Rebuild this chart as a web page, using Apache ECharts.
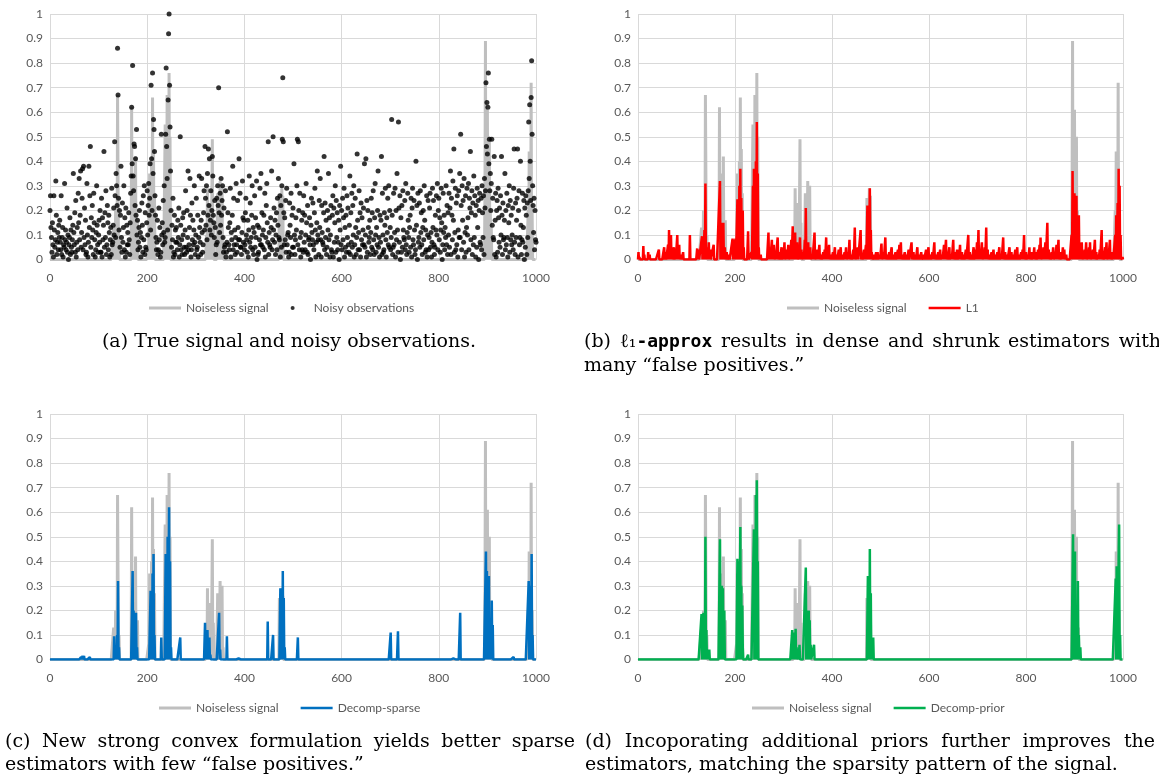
<!DOCTYPE html>
<html><head><meta charset="utf-8">
<script src="https://cdn.jsdelivr.net/npm/echarts@6/dist/echarts.min.js"></script>
<style>html,body{margin:0;padding:0;background:#fff}#c{width:1159px;height:776px}</style>
</head><body><div id="c"></div>
<script>
// ---------- data ----------
const N = 1001; // indices 0..1000
const yTicks = [0,0.1,0.2,0.3,0.4,0.5,0.6,0.7,0.8,0.9,1];
const xTicks = [0,200,400,600,800,1000];

// noiseless signal: non-zero entries [index, value]
const signalNonzero = [[131,0.13],[133,0.05],[135,0.2],[137,0.05],[139,0.67],[140,0.67],[142,0.1],
 [168,0.62],[170,0.35],[172,0.2],[174,0.3],[176,0.42],[178,0.15],[180,0.16],
 [203,0.06],[205,0.35],[207,0.2],[209,0.4],[211,0.66],[213,0.45],[215,0.27],
 [237,0.55],[239,0.3],[241,0.67],[243,0.4],[245,0.76],[247,0.5],
 [322,0.1],[324,0.29],[326,0.1],[328,0.23],[331,0.1],[334,0.49],[336,0.15],
 [345,0.27],[347,0.2],[350,0.32],[352,0.25],[354,0.3],[356,0.05],
 [472,0.25],[474,0.15],[477,0.29],[479,0.26],
 [895,0.3],[896,0.89],[898,0.45],[900,0.61],[902,0.3],[904,0.5],[906,0.2],[908,0.13],
 [984,0.2],[986,0.44],[988,0.3],[990,0.72],[992,0.2]];

// noisy observations, one per index, in hundredths
const noisyObs = [
20,26,13,9,3,15,6,1,26,12,5,8,32,18,2,7,11,4,14,9,
16,7,4,26,2,9,13,1,6,5,31,8,12,4,7,21,3,10,0,6,
9,17,2,12,5,3,8,14,35,11,6,19,3,24,1,7,13,4,27,15,
33,8,18,36,5,11,25,37,4,38,9,21,6,16,2,3,31,10,1,7,
38,13,26,46,5,17,9,22,12,2,27,15,8,1,4,11,30,14,6,3,
10,16,7,20,3,3,25,1,17,8,14,44,5,19,9,28,2,6,22,15,
4,18,11,1,8,13,2,29,6,7,14,21,10,48,26,9,35,30,22,86,
67,25,12,20,5,18,38,9,3,23,7,13,30,4,17,1,21,3,14,6,
11,6,19,8,2,15,27,34,62,39,79,34,28,47,46,22,41,18,53,10,
16,4,7,13,20,5,11,1,9,23,14,3,26,8,30,2,19,5,4,15,
28,10,22,31,18,25,39,12,71,41,20,76,35,57,53,44,26,18,9,4,
7,16,2,4,21,8,13,1,3,51,10,15,6,24,11,30,7,9,51,78,
46,33,12,65,92,100,71,54,36,20,5,14,8,25,1,3,18,2,12,7,
13,7,4,16,9,21,1,6,50,14,4,8,2,17,10,19,5,2,12,28,
5,3,20,9,36,4,6,13,33,18,1,4,23,8,16,6,12,30,7,2,
10,25,4,5,18,1,9,34,13,7,2,16,33,11,3,6,19,28,12,46,
25,14,30,8,35,18,45,22,41,12,16,28,10,20,42,34,18,15,9,24,
13,2,6,25,7,30,22,70,19,11,27,14,33,18,24,30,9,3,21,5,
6,28,1,3,7,52,19,13,6,4,15,29,1,11,8,18,38,4,25,6,
12,2,9,31,6,3,24,13,8,41,8,27,5,5,2,11,32,17,7,16,
4,6,19,25,10,8,3,16,1,12,34,7,23,5,9,18,30,4,13,2,
11,26,5,17,9,32,0,14,2,3,13,8,29,6,35,6,19,10,5,12,
18,4,27,1,9,22,31,15,7,48,2,11,6,5,17,13,36,4,8,50,
12,21,7,16,2,10,19,4,25,14,33,9,8,26,1,22,5,30,49,74,
48,19,6,17,8,24,3,29,6,10,11,1,3,23,14,9,27,2,18,5,
21,5,39,10,2,8,17,12,30,49,6,48,20,4,27,9,1,11,16,4,
19,3,26,7,18,4,10,31,15,3,22,2,8,9,17,6,0,14,25,11,
8,23,6,4,19,29,12,1,7,15,36,10,8,2,24,13,33,8,1,22,
11,7,6,19,42,4,23,9,16,2,5,20,12,35,8,17,1,10,22,4,
3,18,26,1,21,7,15,30,3,24,9,19,4,7,16,0,22,12,38,6,
20,4,25,8,17,29,1,13,5,18,3,26,9,21,6,3,14,34,2,19,
7,27,5,22,10,30,1,6,25,13,2,9,43,16,4,11,28,4,19,1,
23,8,17,6,12,21,6,39,5,10,41,1,24,3,20,13,7,9,16,2,
11,25,5,19,4,28,8,2,17,31,10,3,13,6,20,36,5,9,1,18,
7,16,42,2,27,10,3,4,19,14,29,8,1,17,11,25,6,30,5,20,
13,4,9,57,18,2,5,27,6,11,29,1,20,8,35,12,3,56,21,7,
26,0,17,3,22,5,28,12,9,8,24,4,31,6,2,11,27,16,9,3,
13,18,5,25,1,21,29,8,6,24,12,2,4,40,14,22,0,27,7,9,
23,5,28,11,19,6,2,13,20,8,30,16,3,12,4,26,1,10,24,4,
9,21,27,5,11,1,7,29,13,24,6,2,5,18,12,26,10,31,4,20,
25,8,17,3,12,29,15,0,6,27,11,18,4,13,9,30,6,22,2,19,
10,27,5,21,36,2,25,18,8,32,16,45,3,11,29,4,23,6,26,1,
12,28,9,35,9,51,22,4,30,16,24,7,33,1,11,26,3,13,29,10,
17,31,4,25,21,44,8,19,28,2,23,6,34,9,26,18,1,22,5,29,
13,24,0,20,27,7,6,25,4,30,19,9,26,2,33,21,28,72,46,64,
43,62,76,39,49,28,35,20,31,49,14,25,9,8,42,2,16,27,1,20,
24,3,29,17,7,21,5,26,10,42,18,2,23,8,9,16,35,4,20,6,
27,9,1,22,15,30,3,24,8,18,6,10,21,4,29,45,7,2,23,9,
16,25,45,1,20,28,6,9,40,14,2,8,27,7,13,24,0,21,5,26,
18,2,23,9,28,56,33,63,40,24,66,81,51,30,22,11,25,4,20,8,
7];

// L1 estimate, non-zero entries
const l1Nonzero = [[1,0.03],[3,0.01],[11,0.055],[13,0.02],[21,0.03],[24,0.02],[43,0.04],[54,0.05],[57,0.03],[62,0.06],[64,0.12],[66,0.07],[68,0.1],[70,0.03],[74,0.05],[77,0.03],[81,0.1],[83,0.05],[85,0.06],[89,0.02],[93,0.03],[107,0.1],[122,0.045],[125,0.04],[132,0.095],[134,0.05],[137,0.12],[139,0.31],[141,0.05],[143,0.03],[146,0.07],[149,0.04],[156,0.06],[169,0.32],[171,0.15],[174,0.06],[176,0.15],[179,0.05],[183,0.03],[188,0.02],[195,0.085],[198,0.08],[201,0.085],[205,0.245],[207,0.15],[209,0.3],[211,0.37],[213,0.25],[216,0.2],[218,0.05],[227,0.115],[234,0.03],[237,0.3],[239,0.37],[241,0.25],[243,0.4],[245,0.56],[247,0.35],[249,0.05],[253,0.02],[269,0.11],[272,0.04],[276,0.08],[280,0.06],[283,0.03],[288,0.09],[292,0.03],[296,0.05],[299,0.02],[302,0.07],[306,0.04],[310,0.06],[313,0.03],[316,0.08],[319,0.135],[322,0.06],[324,0.11],[326,0.05],[328,0.07],[331,0.03],[334,0.09],[337,0.04],[341,0.03],[344,0.08],[346,0.21],[348,0.06],[351,0.07],[353,0.03],[355,0.05],[359,0.02],[364,0.11],[367,0.03],[370,0.04],[374,0.06],[378,0.02],[382,0.03],[385,0.04],[388,0.09],[390,0.05],[394,0.06],[398,0.02],[402,0.03],[406,0.05],[410,0.02],[414,0.04],[418,0.05],[422,0.02],[426,0.03],[429,0.05],[433,0.03],[436,0.08],[440,0.02],[444,0.04],[447,0.13],[450,0.03],[453,0.05],[459,0.12],[462,0.02],[466,0.04],[470,0.06],[473,0.22],[475,0.1],[478,0.29],[480,0.12],[482,0.03],[487,0.02],[491,0.03],[494,0.03],[498,0.02],[502,0.065],[506,0.03],[510,0.09],[514,0.02],[518,0.03],[523,0.05],[527,0.02],[531,0.03],[536,0.04],[539,0.06],[542,0.07],[546,0.02],[550,0.03],[554,0.02],[558,0.04],[564,0.07],[568,0.03],[572,0.02],[576,0.05],[580,0.02],[584,0.03],[589,0.02],[594,0.04],[599,0.05],[603,0.02],[607,0.03],[611,0.07],[615,0.02],[619,0.03],[623,0.04],[627,0.02],[631,0.06],[635,0.08],[638,0.03],[642,0.05],[646,0.02],[650,0.08],[654,0.03],[658,0.04],[661,0.02],[664,0.06],[668,0.03],[672,0.02],[676,0.04],[681,0.1],[684,0.03],[688,0.02],[692,0.05],[696,0.04],[699,0.07],[702,0.12],[705,0.04],[709,0.07],[712,0.03],[715,0.05],[718,0.13],[721,0.04],[725,0.02],[729,0.03],[733,0.04],[737,0.02],[741,0.03],[745,0.05],[749,0.02],[753,0.09],[757,0.03],[761,0.02],[766,0.05],[770,0.03],[774,0.02],[778,0.04],[782,0.05],[786,0.02],[790,0.03],[793,0.04],[796,0.1],[800,0.03],[804,0.02],[807,0.05],[811,0.03],[814,0.02],[817,0.05],[821,0.03],[825,0.04],[828,0.06],[830,0.09],[833,0.03],[836,0.05],[840,0.07],[844,0.15],[847,0.04],[850,0.02],[853,0.03],[856,0.05],[859,0.02],[863,0.06],[867,0.08],[870,0.03],[873,0.02],[876,0.05],[879,0.04],[883,0.02],[894,0.1],[896,0.36],[898,0.2],[900,0.27],[902,0.15],[904,0.26],[906,0.1],[909,0.18],[911,0.06],[915,0.07],[918,0.02],[921,0.04],[924,0.07],[927,0.03],[930,0.05],[932,0.07],[935,0.02],[938,0.04],[942,0.08],[945,0.03],[949,0.02],[952,0.04],[956,0.12],[959,0.03],[963,0.05],[966,0.07],[969,0.02],[973,0.08],[976,0.03],[979,0.02],[984,0.1],[986,0.18],[988,0.12],[989,0.23],[991,0.37],[993,0.3],[995,0.1],[999,0.01]];

// Decomp-sparse estimate, non-zero entries
const sparseNonzero = [[64,0.01],[67,0.015],[70,0.015],[82,0.01],[132,0.095],[134,0.02],[136,0.03],[138,0.1],[140,0.32],[142,0.05],[170,0.36],[172,0.2],[174,0.19],[176,0.15],[177,0.19],[179,0.05],[207,0.28],[209,0.2],[211,0.35],[213,0.43],[215,0.1],[229,0.09],[238,0.43],[240,0.37],[242,0.5],[245,0.62],[247,0.4],[249,0.05],[268,0.09],[319,0.15],[321,0.03],[324,0.12],[326,0.03],[328,0.09],[330,0.02],[348,0.19],[350,0.04],[364,0.095],[388,0.004],[448,0.155],[459,0.1],[474,0.29],[477,0.25],[479,0.36],[481,0.25],[483,0.05],[510,0.09],[701,0.11],[716,0.115],[830,0.005],[844,0.19],[897,0.44],[899,0.36],[901,0.3],[903,0.34],[905,0.15],[907,0.13],[909,0.24],[911,0.14],[954,0.01],[985,0.32],[987,0.23],[989,0.3],[991,0.43],[993,0.1]];

// Decomp-prior estimate, non-zero entries
const priorNonzero = [[62,0.003],[131,0.185],[133,0.18],[135,0.19],[137,0.04],[139,0.5],[141,0.12],[143,0.03],[145,0.04],[147,0.04],[169,0.49],[171,0.12],[173,0.3],[175,0.29],[177,0.12],[178,0.2],[205,0.41],[207,0.13],[208,0.4],[211,0.54],[213,0.3],[215,0.22],[216,0.05],[227,0.02],[239,0.53],[241,0.3],[243,0.67],[245,0.73],[247,0.4],[318,0.12],[320,0.05],[322,0.11],[325,0.125],[327,0.05],[330,0.02],[333,0.06],[346,0.375],[348,0.1],[350,0.2],[352,0.2],[354,0.16],[356,0.06],[363,0.06],[474,0.34],[476,0.3],[478,0.45],[480,0.27],[482,0.09],[485,0.09],[897,0.51],[899,0.32],[901,0.44],[903,0.1],[905,0.2],[907,0.32],[909,0.1],[912,0.05],[985,0.33],[987,0.38],[989,0.24],[991,0.42],[992,0.55],[994,0.1]];

const seriesNames = ['Noiseless signal','Noisy observations','L1','Decomp-sparse','Decomp-prior'];
const captions = {
  a: '(a) True signal and noisy observations.',
  b1: '(b) ℓ₁-approx results in dense and shrunk estimators with',
  b2: 'many “false positives.”',
  c1: '(c) New strong convex formulation yields better sparse',
  c2: 'estimators with few “false positives.”',
  d1: '(d) Incoporating additional priors further improves the',
  d2: 'estimators, matching the sparsity pattern of the signal.'
};

// ---------- build ----------
function dense(nz){ const a = new Array(N).fill(0); nz.forEach(p => { a[p[0]] = p[1]; }); return a.map((v,i)=>[i,v]); }
const sigData = dense(signalNonzero);
const obsData = noisyObs.map((v,i)=>[i, v/100]);

const GRID = '#d9d9d9', LAB = '#595959', FONT = 'Lato';
const grids = [
  {left:50, top:14, width:486, height:245.5},
  {left:638, top:14, width:485, height:245.5},
  {left:50, top:414, width:486, height:245.5},
  {left:638, top:414, width:485, height:245.5}
];
const xAxes = grids.map((g,i)=>({gridIndex:i, type:'value', min:xTicks[0], max:xTicks[xTicks.length-1], interval:200,
  axisLine:{lineStyle:{color:GRID}}, axisTick:{show:false},
  splitLine:{show:true, lineStyle:{color:GRID, width:1}},
  axisLabel:{color:LAB, fontSize:12, fontFamily:FONT, margin:13, formatter:v=>String(v)}}));
const yAxes = grids.map((g,i)=>({gridIndex:i, type:'value', min:yTicks[0], max:yTicks[yTicks.length-1], interval:0.1,
  axisLine:{show:false}, axisTick:{show:false},
  splitLine:{show:true, lineStyle:{color:GRID, width:1}},
  axisLabel:{color:LAB, fontSize:12, fontFamily:FONT, margin:7}}));

function sigSeries(i){ return {name:seriesNames[0], type:'line', xAxisIndex:i, yAxisIndex:i, data:sigData, symbol:'none',
  lineStyle:{color:'#bfbfbf', width:3}, itemStyle:{color:'#bfbfbf'}, z:2}; }
function estSeries(i, name, nz, color){ return {name, type:'line', xAxisIndex:i, yAxisIndex:i, data:dense(nz), symbol:'none',
  lineStyle:{color, width:2.5}, itemStyle:{color}, z:3}; }

const series = [
  sigSeries(0),
  {name:seriesNames[1], type:'scatter', xAxisIndex:0, yAxisIndex:0, data:obsData, symbol:'circle', symbolSize:5, itemStyle:{color:'#000'}, z:3},
  sigSeries(1), estSeries(1, seriesNames[2], l1Nonzero, '#ff0000'),
  sigSeries(2), estSeries(2, seriesNames[3], sparseNonzero, '#0070c0'),
  sigSeries(3), estSeries(3, seriesNames[4], priorNonzero, '#00b050')
];

const ICON_GREY = 'path://M0 0H32V3H0Z', ICON_COL = 'path://M0 0H64V5H0Z';
const legBase = {itemWidth:32, itemHeight:4, itemGap:22, selectedMode:false, padding:0,
  textStyle:{color:LAB, fontSize:12, fontFamily:FONT}};
const legend = [
  Object.assign({left:149, top:302, data:[{name:seriesNames[0], icon:ICON_GREY}, {name:seriesNames[1], icon:'circle'}]}, legBase),
  Object.assign({left:787, top:302, data:[{name:seriesNames[0], icon:ICON_GREY}, {name:seriesNames[2], icon:ICON_COL}]}, legBase),
  Object.assign({left:159, top:702, data:[{name:seriesNames[0], icon:ICON_GREY}, {name:seriesNames[3], icon:ICON_COL}]}, legBase),
  Object.assign({left:752, top:702, data:[{name:seriesNames[0], icon:ICON_GREY}, {name:seriesNames[4], icon:ICON_COL}]}, legBase)
];

// captions (serif text, first lines justified like the source)
const CAP_FONTS = {n:'19px "DejaVu Serif"', m:'bold 18px "DejaVu Sans Mono"'};
const RICH = {n:{fontFamily:'DejaVu Serif', fontSize:19, fill:'#000'},
              m:{fontFamily:'DejaVu Sans Mono', fontWeight:'bold', fontSize:18, fill:'#000'}};
const mctx = document.createElement('canvas').getContext('2d');
function tw(t, f){ mctx.font = f; return mctx.measureText(t).width; }
function cap(text, x, y, align){ return {type:'text', x, y, silent:true,
  style:{text, font:CAP_FONTS.n, fill:'#000', textAlign:align||'left', textVerticalAlign:'middle'}}; }
function tokens(line){ // split into words; "-approx" in typewriter bold
  return line.split(' ').map(w => {
    const k = w.indexOf('-approx');
    return k > 0 ? [[w.slice(0,k),'n'],['-approx','m']] : [[w,'n']];
  });
}
function justified(line, x0, x1, y){
  const toks = tokens(line);
  const widths = toks.map(t => t.reduce((s,p)=>s+tw(p[0], CAP_FONTS[p[1]]), 0));
  const gap = (x1 - x0 - widths.reduce((a,b)=>a+b,0)) / (toks.length-1);
  let x = x0; const els = [];
  toks.forEach((t,k) => {
    els.push({type:'text', x, y, silent:true, style:{text:t.map(p=>'{'+p[1]+'|'+p[0]+'}').join(''), rich:RICH, fill:'#000', textVerticalAlign:'middle'}});
    x += widths[k] + gap;
  });
  return els;
}
const graphic = [].concat(
  [cap(captions.a, 289, 342, 'center')],
  justified(captions.b1, 584, 1161, 342), [cap(captions.b2, 584, 366)],
  justified(captions.c1, 5, 575, 742), [cap(captions.c2, 5, 765)],
  justified(captions.d1, 585, 1155, 742), [cap(captions.d2, 585, 765)]
);

const chart = echarts.init(document.getElementById('c'), null, {renderer:'canvas'});
chart.setOption({animation:false, backgroundColor:'#fff', grid:grids, xAxis:xAxes, yAxis:yAxes, legend, series, graphic});
</script></body></html>
